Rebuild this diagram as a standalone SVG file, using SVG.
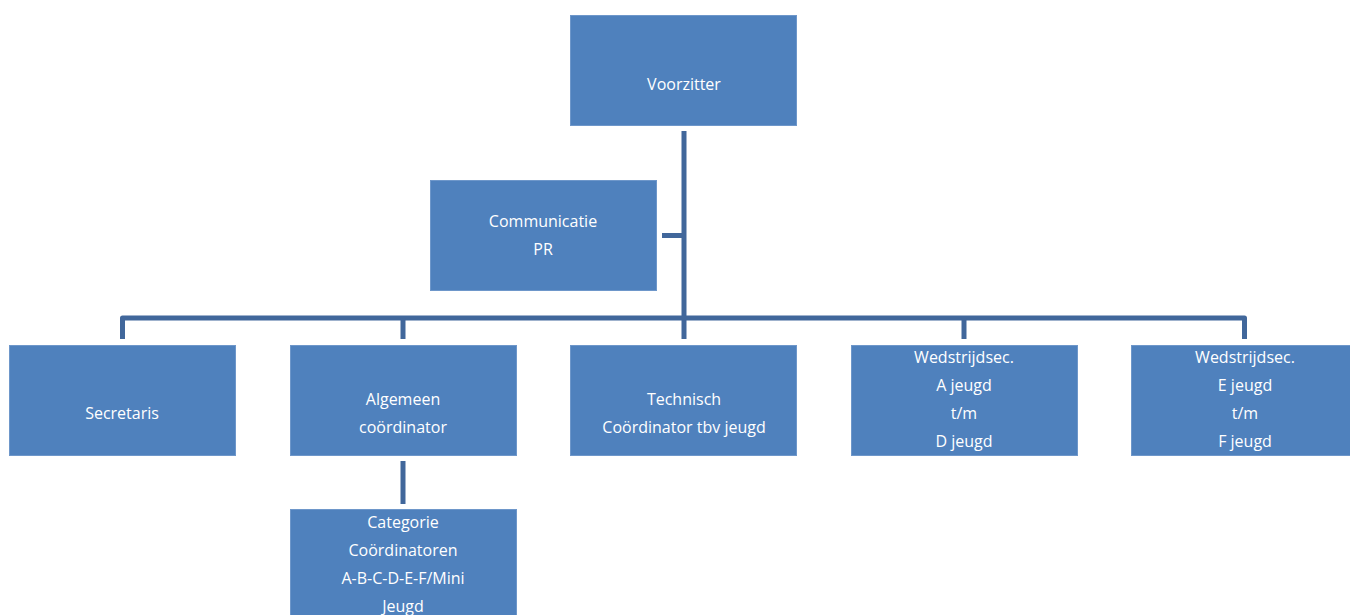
<svg xmlns="http://www.w3.org/2000/svg" width="1350" height="615" viewBox="0 0 1350 615">
<style>
.box{fill:#4F81BD;stroke:#6E97CA;stroke-width:1}
.lbl{font-family:"Open Sans","Liberation Sans",sans-serif;font-size:16px;fill:#FFFFFF;text-anchor:middle}
.conn{fill:none;stroke:#41679B;stroke-width:5;stroke-linejoin:round}
</style>
<rect width="1350" height="615" fill="#FFFFFF"/>
<g id="connectors">
<path class="conn" d="M684 131 V339"/>
<path class="conn" d="M662 235.5 H684"/>
<path class="conn" d="M122.5 339 V318 H1244.5 V339"/>
<path class="conn" d="M403 318 V339"/>
<path class="conn" d="M964 318 V339"/>
<path class="conn" d="M403 461 V504"/>
</g>
<g id="voorzitter">
<rect class="box" x="570.5" y="15.5" width="226" height="110"/>
<text class="lbl" x="684" y="90">Voorzitter</text>
</g>
<g id="communicatie">
<rect class="box" x="430.5" y="180.5" width="226" height="110"/>
<text class="lbl" x="543" y="227">Communicatie</text>
<text class="lbl" x="543" y="255">PR</text>
</g>
<g id="secretaris">
<rect class="box" x="9.5" y="345.5" width="226" height="110"/>
<text class="lbl" x="122" y="419">Secretaris</text>
</g>
<g id="algemeen">
<rect class="box" x="290.5" y="345.5" width="226" height="110"/>
<text class="lbl" x="403" y="405">Algemeen</text>
<text class="lbl" x="403" y="433">coördinator</text>
</g>
<g id="technisch">
<rect class="box" x="570.5" y="345.5" width="226" height="110"/>
<text class="lbl" x="684" y="405">Technisch</text>
<text class="lbl" x="684" y="433">Coördinator tbv jeugd</text>
</g>
<g id="wedstrijd-ad">
<rect class="box" x="851.5" y="345.5" width="226" height="110"/>
<text class="lbl" x="964" y="363">Wedstrijdsec.</text>
<text class="lbl" x="964" y="391">A jeugd</text>
<text class="lbl" x="964" y="419">t/m</text>
<text class="lbl" x="964" y="447">D jeugd</text>
</g>
<g id="wedstrijd-ef">
<rect class="box" x="1131.5" y="345.5" width="226" height="110"/>
<text class="lbl" x="1245" y="363">Wedstrijdsec.</text>
<text class="lbl" x="1245" y="391">E jeugd</text>
<text class="lbl" x="1245" y="419">t/m</text>
<text class="lbl" x="1245" y="447">F jeugd</text>
</g>
<g id="categorie">
<rect class="box" x="290.5" y="509.5" width="226" height="110"/>
<text class="lbl" x="403" y="528">Categorie</text>
<text class="lbl" x="403" y="556">Coördinatoren</text>
<text class="lbl" x="403" y="584">A-B-C-D-E-F/Mini</text>
<text class="lbl" x="403" y="612">Jeugd</text>
</g>
</svg>
